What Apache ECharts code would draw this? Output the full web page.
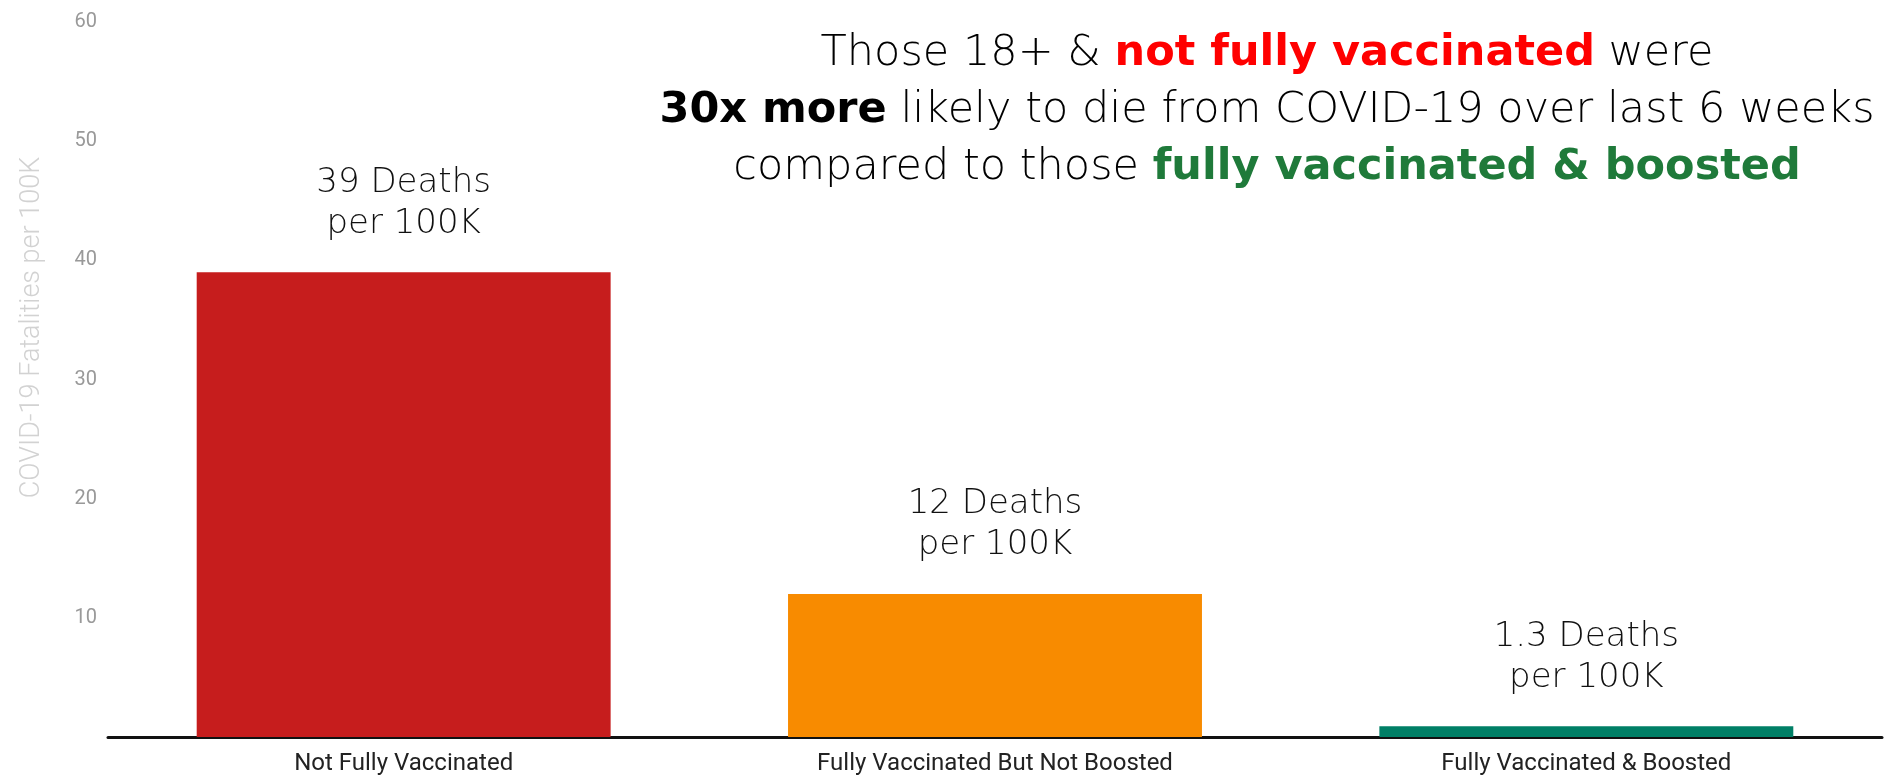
<!DOCTYPE html>
<html>
<head>
<meta charset="utf-8">
<script src="https://cdn.jsdelivr.net/npm/echarts@6/dist/echarts.min.js"></script>
<style>html,body{margin:0;padding:0;background:#fff}#c{width:1886px;height:776px}</style>
</head>
<body>
<div id="c"></div>
<script>
const categories = ['Not Fully Vaccinated', 'Fully Vaccinated But Not Boosted', 'Fully Vaccinated & Boosted'];
const deathsPer100K = [39, 12, 0.9];
const labelValues = ['39', '12', '1.3'];
const barColors = ['#C61D1D', '#F88B00', '#007F66'];
const yTicks = [0, 10, 20, 30, 40, 50, 60];

const FONT = '"DejaVu Sans", "Open Sans", sans-serif';
const TS = 43;
const chart = echarts.init(document.getElementById('c'));
chart.setOption({
  animation: false,
  backgroundColor: '#fff',
  title: {
    left: 1262,
    top: 20,
    textAlign: 'center',
    text: '{n|Those 18+ & }{r|not fully vaccinated}{n| were}\n{b|30x more}{n| likely to die from COVID-19 over last 6 weeks}\n{n|compared to those }{g|fully vaccinated & boosted}',
    textStyle: {
      fontFamily: FONT,
      fontSize: TS,
      lineHeight: 57,
      rich: {
        n: {fontFamily: FONT, fontSize: TS, fontWeight: 300, color: '#000', lineHeight: 57},
        r: {fontFamily: FONT, fontSize: TS, fontWeight: 'bold', color: '#FF0000', lineHeight: 57},
        b: {fontFamily: FONT, fontSize: TS, fontWeight: 'bold', color: '#000', lineHeight: 57},
        g: {fontFamily: FONT, fontSize: TS, fontWeight: 'bold', color: '#1F7A3A', lineHeight: 57}
      }
    }
  },
  grid: {left: 108, right: 4, top: 22, bottom: 37.5},
  xAxis: {
    type: 'category',
    data: categories,
    axisLine: {show: true, lineStyle: {color: '#111', width: 3}},
    axisTick: {show: false},
    axisLabel: {color: '#222', fontFamily: 'Roboto', fontSize: 24, margin: 15}
  },
  yAxis: {
    type: 'value',
    min: yTicks[0],
    max: yTicks[yTicks.length - 1],
    interval: 10,
    axisLine: {show: false},
    axisTick: {show: false},
    splitLine: {show: false},
    axisLabel: {
      showMinLabel: false,
      color: '#999',
      fontFamily: 'Roboto',
      fontSize: 20,
      margin: 11
    },
    name: 'COVID-19 Fatalities per 100K',
    nameLocation: 'middle',
    nameGap: 62,
    nameTextStyle: {
      color: '#D2D2D2',
      fontFamily: 'Roboto',
      fontWeight: 300,
      fontSize: 27,
      padding: [0, 0, 0, 104]
    }
  },
  series: [{
    type: 'bar',
    barCategoryGap: '30%',
    data: deathsPer100K.map((v, i) => ({value: v, itemStyle: {color: barColors[i]}})),
    label: {
      show: true,
      position: 'top',
      distance: 28,
      formatter: p => labelValues[p.dataIndex] + ' Deaths\nper 100K',
      color: '#111',
      fontFamily: FONT,
      fontWeight: 300,
      fontSize: 34,
      lineHeight: 41
    }
  }]
});
</script>
</body>
</html>
